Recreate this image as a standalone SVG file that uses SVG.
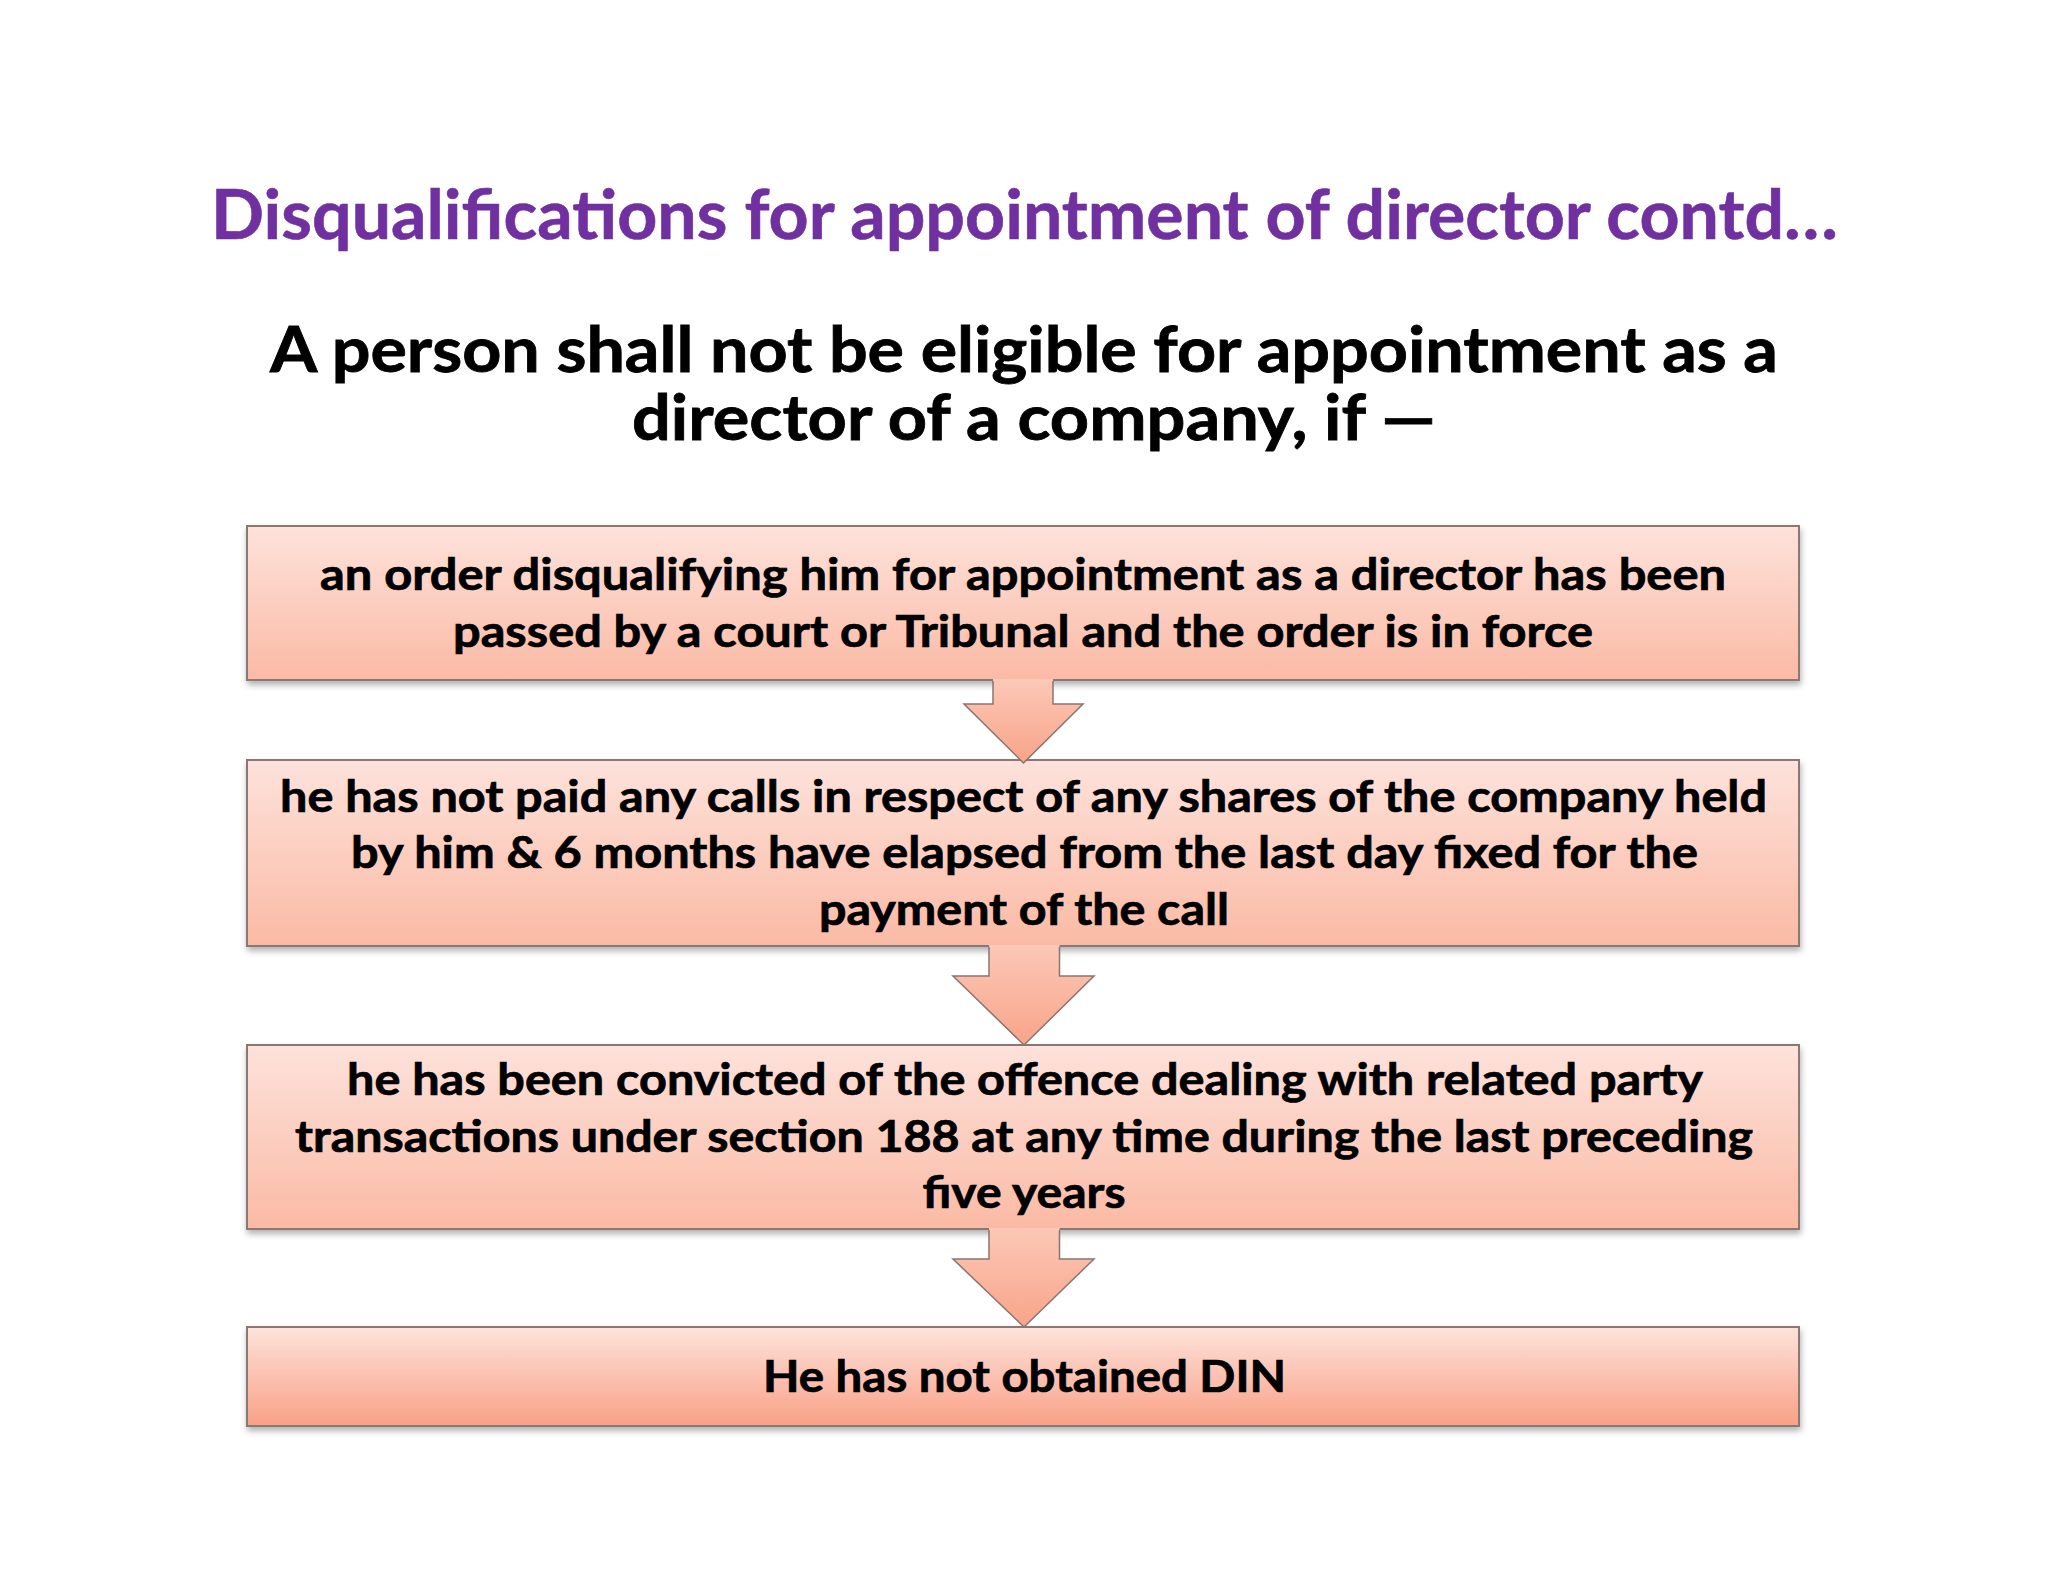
<svg xmlns="http://www.w3.org/2000/svg" width="2048" height="1582" viewBox="0 0 2048 1582">
<style>
.t{font-family:Lato,"Open Sans","Liberation Sans",sans-serif;font-weight:700;text-anchor:middle}
.title{font-size:68px;fill:#7030A0;stroke:#7030A0;stroke-width:0.6}
.sub{font-size:63px;fill:#000;stroke:#000;stroke-width:0.8}
.bt{font-size:43px;fill:#000;stroke:#000;stroke-width:0.7}
.box{stroke:#8A7874;stroke-width:2}
.arrowFill{fill:url(#ag);stroke:none}
.arrowLine{fill:none;stroke:#8A7470;stroke-width:1.5;stroke-linejoin:miter}
</style>
<defs>
<linearGradient id="bg1" x1="0" y1="0" x2="0" y2="1">
<stop offset="0" stop-color="#FDE2DB"/>
<stop offset="1" stop-color="#FBBAA5"/>
</linearGradient>
<linearGradient id="bg4" x1="0" y1="0" x2="0" y2="1">
<stop offset="0" stop-color="#FDE3DB"/>
<stop offset="1" stop-color="#F9A086"/>
</linearGradient>
<linearGradient id="ag" x1="0" y1="0" x2="0" y2="1">
<stop offset="0" stop-color="#FCC8B7"/>
<stop offset="1" stop-color="#F8A489"/>
</linearGradient>
<filter id="sh" x="-5%" y="-20%" width="110%" height="150%">
<feDropShadow dx="1" dy="4" stdDeviation="3" flood-color="#000" flood-opacity="0.3"/>
</filter>
</defs>
<rect width="2048" height="1582" fill="#FFFFFF"/>
<g id="title">
<text class="t title" x="1024.5" y="239" textLength="1627" lengthAdjust="spacingAndGlyphs">Disqualifications for appointment of director contd…</text>
</g>
<g id="subtitle">
<text class="t sub" x="1024" y="372" textLength="1508" lengthAdjust="spacingAndGlyphs">A person shall not be eligible for appointment as a</text>
<text class="t sub" x="1034" y="440" textLength="804" lengthAdjust="spacingAndGlyphs">director of a company, if —</text>
</g>
<g id="node1">
<rect class="box" x="247" y="526" width="1552" height="154" fill="url(#bg1)" filter="url(#sh)"/>
<text class="t bt" x="1023" y="590" textLength="1406" lengthAdjust="spacingAndGlyphs">an order disqualifying him for appointment as a director has been</text>
<text class="t bt" x="1023" y="647" textLength="1140" lengthAdjust="spacingAndGlyphs">passed by a court or Tribunal and the order is in force</text>
</g>
<g id="node2">
<rect class="box" x="247" y="760" width="1552" height="186" fill="url(#bg1)" filter="url(#sh)"/>
<text class="t bt" x="1023.5" y="812" textLength="1487" lengthAdjust="spacingAndGlyphs">he has not paid any calls in respect of any shares of the company held</text>
<text class="t bt" x="1024.5" y="868" textLength="1347" lengthAdjust="spacingAndGlyphs">by him &amp; 6 months have elapsed from the last day fixed for the</text>
<text class="t bt" x="1024" y="925" textLength="410" lengthAdjust="spacingAndGlyphs">payment of the call</text>
</g>
<g id="node3">
<rect class="box" x="247" y="1045" width="1552" height="184" fill="url(#bg1)" filter="url(#sh)"/>
<text class="t bt" x="1025" y="1095" textLength="1356" lengthAdjust="spacingAndGlyphs">he has been convicted of the offence dealing with related party</text>
<text class="t bt" x="1024" y="1152" textLength="1458" lengthAdjust="spacingAndGlyphs">transactions under section 188 at any time during the last preceding</text>
<text class="t bt" x="1024" y="1208" textLength="203" lengthAdjust="spacingAndGlyphs">five years</text>
</g>
<g id="node4">
<rect class="box" x="247" y="1327" width="1552" height="99" fill="url(#bg4)" filter="url(#sh)"/>
<text class="t bt" x="1024.5" y="1392" textLength="523" lengthAdjust="spacingAndGlyphs">He has not obtained DIN</text>
</g>
<g id="connectors">
<g id="arrow1">
<path class="arrowFill" d="M993,679 L1053,679 L1053,704 L1083,704 L1023.5,763 L964,704 L993,704 Z"/>
<path class="arrowLine" d="M993,681 L993,704 L964,704 L1023.5,763 L1083,704 L1053,704 L1053,681"/>
</g>
<g id="arrow2">
<path class="arrowFill" d="M989,945 L1059.5,945 L1059.5,976 L1094,976 L1024,1045 L953,976 L989,976 Z"/>
<path class="arrowLine" d="M989,947 L989,976 L953,976 L1024,1045 L1094,976 L1059.5,976 L1059.5,947"/>
</g>
<g id="arrow3">
<path class="arrowFill" d="M989,1228 L1059.5,1228 L1059.5,1259 L1094,1259 L1024,1327 L953,1259 L989,1259 Z"/>
<path class="arrowLine" d="M989,1230 L989,1259 L953,1259 L1024,1327 L1094,1259 L1059.5,1259 L1059.5,1230"/>
</g>
</g>
</svg>
